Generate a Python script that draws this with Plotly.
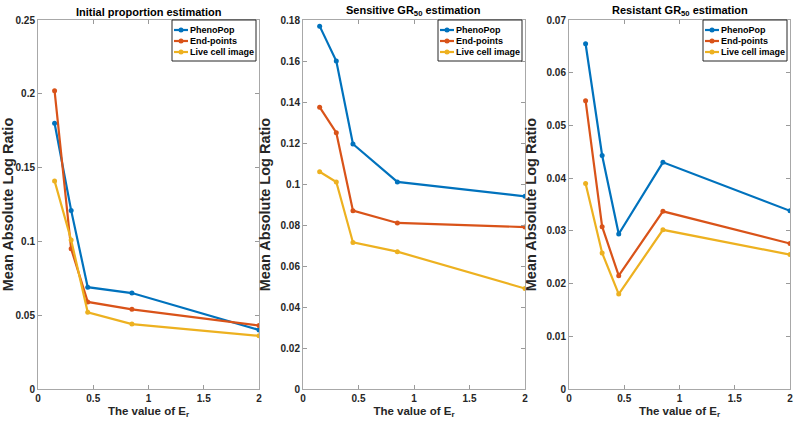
import plotly.graph_objects as go

er_values = [0.15, 0.3, 0.45, 0.85, 2]
series_names = ["PhenoPop", "End-points", "Live cell image"]
colors = ["#0072BD", "#D95319", "#EDB120"]

init_pheno = [0.180, 0.121, 0.069, 0.065, 0.040]
init_end = [0.202, 0.095, 0.059, 0.054, 0.043]
init_live = [0.141, 0.101, 0.052, 0.044, 0.036]

sens_pheno = [0.177, 0.160, 0.1195, 0.101, 0.094]
sens_end = [0.1375, 0.125, 0.087, 0.081, 0.079]
sens_live = [0.106, 0.101, 0.0715, 0.067, 0.049]

res_pheno = [0.0655, 0.0443, 0.0294, 0.043, 0.0338]
res_end = [0.0547, 0.0308, 0.0215, 0.0337, 0.0276]
res_live = [0.039, 0.0258, 0.018, 0.0302, 0.0255]

titles = ["Initial proportion estimation",
          "Sensitive GR<sub>50</sub> estimation",
          "Resistant GR<sub>50</sub> estimation"]
y_ranges = [[0, 0.25], [0, 0.18], [0, 0.07]]
y_dticks = [0.05, 0.02, 0.01]
panels = [[init_pheno, init_end, init_live],
          [sens_pheno, sens_end, sens_live],
          [res_pheno, res_end, res_live]]

W, H = 800, 425
MT = 20
MB = 425 - 389
px_dom = [[38, 259], [303, 525], [569, 790]]
domains = [[a / W, b / W] for a, b in px_dom]
plot_h = H - MT - MB

FONT = "Liberation Sans, Arial, sans-serif"
fig = go.Figure()
layout = dict(
    width=W, height=H, paper_bgcolor="white", plot_bgcolor="white",
    margin=dict(l=0, r=0, t=MT, b=MB, autoexpand=False), showlegend=False,
    font=dict(family=FONT, color="#262626"),
)
annotations = []
shapes = []


def px(xpix):
    return xpix / W


def py(ypix):
    return (H - MB - ypix) / plot_h


for i, (vals, dom) in enumerate(zip(panels, domains)):
    xa = "x" if i == 0 else f"x{i+1}"
    ya = "y" if i == 0 else f"y{i+1}"
    for j, (name, col, v) in enumerate(zip(series_names, colors, vals)):
        fig.add_trace(go.Scatter(
            x=er_values, y=v, mode="lines+markers", name=name,
            line=dict(color=col, width=2.2), marker=dict(color=col, size=5),
            xaxis=xa, yaxis=ya,
        ))
    xkey = "xaxis" if i == 0 else f"xaxis{i+1}"
    ykey = "yaxis" if i == 0 else f"yaxis{i+1}"
    layout[xkey] = dict(
        domain=dom, anchor=ya, range=[0, 2], tickvals=[0, 0.5, 1, 1.5, 2],
        ticktext=["<b>0</b>", "<b>0.5</b>", "<b>1</b>", "<b>1.5</b>", "<b>2</b>"],
        ticks="inside", ticklen=4, tickcolor="#9a9a9a", showline=True, linecolor="#a8a8a8",
        mirror="ticks", showgrid=False, zeroline=False, automargin=False,
        tickfont=dict(size=10, color="#262626"),
        title=dict(text="<b>The value of E<sub>r</sub></b>", font=dict(size=11.5), standoff=3),
    )
    ymax = y_ranges[i][1]
    dt = y_dticks[i]
    n = int(round(ymax / dt))
    tv = [round(k * dt, 4) for k in range(n + 1)]
    tt = ["<b>%s</b>" % ("0" if t == 0 else ("%g" % t)) for t in tv]
    layout[ykey] = dict(
        domain=[0, 1], anchor=xa, range=y_ranges[i], tickvals=tv, ticktext=tt,
        ticks="inside", ticklen=4, tickcolor="#9a9a9a", showline=True, linecolor="#a8a8a8",
        mirror="ticks", showgrid=False, zeroline=False, automargin=False,
        tickfont=dict(size=10, color="#262626"),
        title=dict(text="<b>Mean Absolute Log Ratio</b>", font=dict(size=14.5), standoff=6),
    )
    annotations.append(dict(
        text="<b>%s</b>" % titles[i], x=(dom[0] + dom[1]) / 2, y=1, xref="paper", yref="paper",
        xanchor="center", yanchor="bottom", showarrow=False, yshift=0,
        font=dict(size=11, color="#000"),
    ))
    # legend box drawn in paper coordinates
    right = px_dom[i][1] - 3
    left = right - 84
    top, bot = 20, 61
    shapes.append(dict(type="rect", xref="paper", yref="paper",
                       x0=px(left), x1=px(right), y0=py(bot), y1=py(top),
                       line=dict(color="#262626", width=1), fillcolor="white", layer="above"))
    rows = [30, 41, 52]
    for name, col, ry in zip(series_names, colors, rows):
        shapes.append(dict(type="line", xref="paper", yref="paper",
                           x0=px(left + 2), x1=px(left + 16), y0=py(ry), y1=py(ry),
                           line=dict(color=col, width=2.2), layer="above"))
        cx = left + 9
        shapes.append(dict(type="circle", xref="paper", yref="paper",
                           x0=px(cx - 2.5), x1=px(cx + 2.5), y0=py(ry + 2.5), y1=py(ry - 2.5),
                           line=dict(color=col, width=0), fillcolor=col, layer="above"))
        annotations.append(dict(
            text="<b>%s</b>" % name, x=px(left + 16), y=py(ry), xref="paper", yref="paper",
            xanchor="left", yanchor="middle", showarrow=False,
            font=dict(size=9, color="#000"),
        ))
layout["annotations"] = annotations
layout["shapes"] = shapes
fig.update_layout(**layout)
fig.write_html("out.html", config={"displayModeBar": False},
               post_script="document.body.style.margin='0';document.body.style.overflow='hidden';")
